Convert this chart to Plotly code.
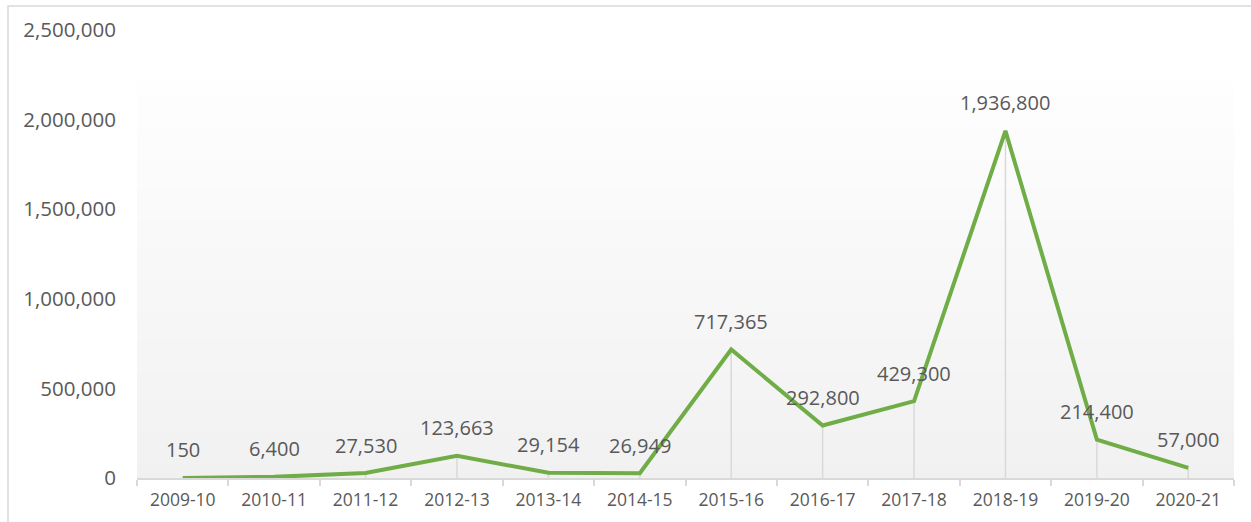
import plotly.graph_objects as go

seasons = ["2009-10", "2010-11", "2011-12", "2012-13", "2013-14", "2014-15",
           "2015-16", "2016-17", "2017-18", "2018-19", "2019-20", "2020-21"]
values = [150, 6400, 27530, 123663, 29154, 26949,
          717365, 292800, 429300, 1936800, 214400, 57000]
y_ticks = [0, 500000, 1000000, 1500000, 2000000, 2500000]

W, H = 1251, 522
ML, MR, MT, MB = 137, 17, 30, 44
PW, PH = W - ML - MR, H - MT - MB

TEXT = "#595959"
GRID = "#d9d9d9"
GREEN = "#70ad47"
FONT = "Open Sans"

fig = go.Figure()

# vertical drop lines from each point down to the axis
dx, dy = [], []
for s, v in zip(seasons, values):
    dx += [s, s, None]
    dy += [0, v, None]
fig.add_trace(go.Scatter(x=dx, y=dy, mode="lines",
                         line=dict(color=GRID, width=1.5),
                         hoverinfo="skip", showlegend=False))

fig.add_trace(go.Scatter(x=seasons, y=values, mode="lines",
                         line=dict(color=GREEN, width=4),
                         showlegend=False))

for s, v in zip(seasons, values):
    fig.add_annotation(x=s, y=v, text=f"{v:,}", showarrow=False,
                       yshift=28, font=dict(family=FONT, size=20, color=TEXT))

# soft vertical gradient behind the upper part of the plot area
shapes = []
g_top = (H - MB - 82) / PH
n = 60
c_top, c_bot = 254, 241
for i in range(n):
    y0 = g_top * i / n
    y1 = g_top * (i + 1) / n
    t = (i + 0.5) / n
    c = round(c_bot + (c_top - c_bot) * t)
    shapes.append(dict(type="rect", xref="paper", yref="paper",
                       x0=0, x1=1, y0=y0, y1=y1 + 0.002,
                       fillcolor=f"rgb({c},{c},{c})", line=dict(width=0),
                       layer="below"))

# outer frame
shapes.append(dict(type="rect", xref="paper", yref="paper",
                   x0=(8 - ML) / PW, x1=(W + 10 - ML) / PW,
                   y0=-(H + 10 - (H - MB)) / PH, y1=(H - MB - 6) / PH,
                   line=dict(color=GRID, width=1.5), fillcolor="rgba(0,0,0,0)",
                   layer="below"))

fig.update_layout(
    width=W, height=H,
    margin=dict(l=ML, r=MR, t=MT, b=MB),
    paper_bgcolor="white", plot_bgcolor="rgba(0,0,0,0)",
    shapes=shapes,
    font=dict(family=FONT, size=19, color=TEXT),
)

fig.update_xaxes(type="category", range=[-0.5, len(seasons) - 0.5],
                 showgrid=False, showline=True, linecolor=GRID, linewidth=1.5,
                 ticks="outside", tickson="boundaries", ticklen=6,
                 tickcolor=GRID, tickwidth=1.5, ticklabelstandoff=5,
                 tickfont=dict(family=FONT, size=17.5, color=TEXT))

fig.update_yaxes(range=[0, 2500000], tickvals=y_ticks,
                 ticktext=[f"{v:,}" for v in y_ticks],
                 showgrid=False, zeroline=False, showline=False,
                 ticks="", ticklabelstandoff=20,
                 tickfont=dict(family=FONT, size=20.5, color=TEXT))

fig.write_html("out.html")
